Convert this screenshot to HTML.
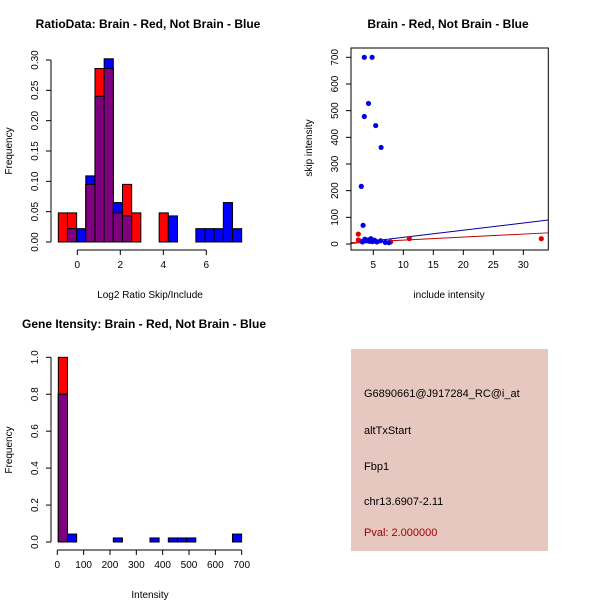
<!DOCTYPE html>
<html><head><meta charset="utf-8"><style>
body{margin:0;background:#fff}
svg{display:block;font-family:"Liberation Sans",sans-serif}
</style></head><body>
<svg id="c" width="600" height="600" viewBox="0 0 600 600">
<text x="148" y="28" font-size="12" font-weight="bold" text-anchor="middle">RatioData: Brain - Red, Not Brain - Blue</text>
<text x="448" y="28" font-size="12" font-weight="bold" text-anchor="middle">Brain - Red, Not Brain - Blue</text>
<text x="144" y="328" font-size="12" font-weight="bold" text-anchor="middle">Gene Itensity: Brain - Red, Not Brain - Blue</text>
<text x="150" y="298" font-size="10" text-anchor="middle">Log2 Ratio Skip/Include</text>
<text x="449" y="298" font-size="10" text-anchor="middle">include intensity</text>
<text x="150" y="598" font-size="10" text-anchor="middle">Intensity</text>
<text transform="translate(12,151) rotate(-90)" font-size="10" text-anchor="middle">Frequency</text>
<text transform="translate(312,148) rotate(-90)" font-size="10" text-anchor="middle">skip intensity</text>
<text transform="translate(12,450) rotate(-90)" font-size="10" text-anchor="middle">Frequency</text>
<rect x="351" y="349" width="197" height="202" fill="#e6c8c0"/>
<g font-size="11">
<text x="364" y="397">G6890661@J917284_RC@i_at</text>
<text x="364" y="434">altTxStart</text>
<text x="364" y="470">Fbp1</text>
<text x="364" y="505">chr13.6907-2.11</text>
<text x="364" y="536" fill="#a00000">Pval: 2.000000</text>
</g>
<g id="g1"></g><g id="g2"></g><g id="g3"></g>
</svg>
<script>
// Ratio histogram data
const ratioRed = [0.048,0.048,0,0.095,0.286,0.286,0.048,0.095,0.048,0,0,0.048,0,0,0,0,0,0,0,0];
const ratioBlue = [0,0.022,0.022,0.109,0.24,0.302,0.065,0.043,0,0,0,0,0.043,0,0,0.022,0.022,0.022,0.065,0.022];
const ratioXTicks = [0,2,4,6];
const ratioYTicks = ["0.00","0.05","0.10","0.15","0.20","0.25","0.30"];
// Scatter data
const blueX = [3.5,4.8,4.2,3.5,5.4,6.3,3.0,3.3,4.6,3.2,3.8,4.2,5.0,5.6,6.2,7.0,7.6,3.6,4.4,5.2];
const blueY = [700,700,527,478,444,362,216,70,20,8,12,15,10,8,12,6,5,18,10,14];
const redX = [2.5,2.5,11,33,7.9,2.7,3.2,4.0,4.8];
const redY = [37,15,20,20,8,12,10,12,9];
const blueLine = [-1.7,2.68];
const redLine = [3,1.14];
const scatXTicks = [5,10,15,20,25,30];
const scatYTicks = [0,100,200,300,400,500,600,700];
// Intensity histogram data
const intRed = [1.0,0,0,0,0,0,0,0,0,0,0,0,0,0,0,0,0,0,0,0];
const intBlue = [0.8,0.043,0,0,0,0,0.022,0,0,0,0.022,0,0.022,0.022,0.022,0,0,0,0,0.043];
const intXTicks = [0,100,200,300,400,500,600,700];
const intYTicks = ["0.0","0.2","0.4","0.6","0.8","1.0"];

const NS="http://www.w3.org/2000/svg";
function mk(p,t,a){const e=document.createElementNS(NS,t);for(const k in a)e.setAttribute(k,a[k]);p.appendChild(e);return e;}

function hist(g,red,blue,start,w,sx,sy,xt,yt,yAxisX,xAxisY){
  for(let i=0;i<red.length;i++){
    const x0=sx(start+i*w),x1=sx(start+(i+1)*w);
    const r=red[i],b=blue[i],m=Math.min(r,b);
    if(r>0){const e=mk(g,'rect',{x:x0,y:sy(r),width:x1-x0,height:sy(0)-sy(r),fill:'#ff0000',stroke:'#000','stroke-width':1});
      
      }
    if(b>0){const e=mk(g,'rect',{x:x0,y:sy(b),width:x1-x0,height:sy(0)-sy(b),fill:'#0000ff',stroke:'#000','stroke-width':1});
      
      }
    if(m>0){const e=mk(g,'rect',{x:x0,y:sy(m),width:x1-x0,height:sy(0)-sy(m),fill:'#7f007f',stroke:'#000','stroke-width':1});
      
      }
  }
  const xl=mk(g,'line',{x1:sx(xt[0]),x2:sx(xt[xt.length-1]),y1:xAxisY,y2:xAxisY,stroke:'#000'});
  
  
  xt.forEach(v=>{mk(g,'line',{x1:sx(v),x2:sx(v),y1:xAxisY,y2:xAxisY+5,stroke:'#000'});
    const t=mk(g,'text',{x:sx(v),y:xAxisY+18,'font-size':10,'text-anchor':'middle'});t.textContent=v;
    
    });
  const yv=yt.map(Number);
  const yl=mk(g,'line',{x1:yAxisX,x2:yAxisX,y1:sy(yv[0]),y2:sy(yv[yv.length-1]),stroke:'#000'});
  
  
  yt.forEach(s=>{const v=Number(s);mk(g,'line',{x1:yAxisX-5,x2:yAxisX,y1:sy(v),y2:sy(v),stroke:'#000'});
    const t=mk(g,'text',{transform:`translate(${yAxisX-13},${sy(v)}) rotate(-90)`,'font-size':10,'text-anchor':'middle'});t.textContent=s;
    
    });
}
// plot 1
{const g=document.getElementById('g1');
 const sx=v=>77.3+v*21.5, sy=v=>242-v*606.7;
 hist(g,ratioRed,ratioBlue,-0.884,0.4265,sx,sy,ratioXTicks,ratioYTicks,51,250);}
// plot 3
{const g=document.getElementById('g3');
 const sx=v=>57.3+v*0.2634, sy=v=>542-v*184.7;
 hist(g,intRed,intBlue,3.8,34.8,sx,sy,intXTicks,intYTicks,51,550);}
// plot 2
{const g=document.getElementById('g2');
 const sx=v=>343.3+v*6, sy=v=>244-v*0.2667;
 const L=351,R=548.3,T=48,B=250;
 const box=mk(g,'rect',{x:L,y:T,width:R-L,height:B-T,fill:'none',stroke:'#000'});
 
 
 mk(g,'clipPath',{id:'cp'}).appendChild(document.createElementNS(NS,'rect'));
 const cr=g.querySelector('#cp rect');cr.setAttribute('x',L);cr.setAttribute('y',T);cr.setAttribute('width',R-L);cr.setAttribute('height',B-T);
 const xmin=(L-343.3)/6,xmax=(R-343.3)/6;
 [[blueLine,'#0000a0','blue-fit-line'],[redLine,'#c00000','red-fit-line']].forEach(([c,col,n])=>{
   const e=mk(g,'line',{x1:sx(xmin),y1:sy(c[0]+c[1]*xmin),x2:sx(xmax),y2:sy(c[0]+c[1]*xmax),stroke:col,'clip-path':'url(#cp)'});
   
   });
 redX.forEach((x,i)=>{const e=mk(g,'circle',{cx:sx(x),cy:sy(redY[i]),r:2.6,fill:'#e00000'});
   
   });
 blueX.forEach((x,i)=>{const e=mk(g,'circle',{cx:sx(x),cy:sy(blueY[i]),r:2.6,fill:'#0000e0'});
   
   });
 mk(g,'line',{x1:sx(5),x2:sx(30),y1:B,y2:B,stroke:'#000'});
 scatXTicks.forEach(v=>{mk(g,'line',{x1:sx(v),x2:sx(v),y1:B,y2:B+5,stroke:'#000'});
   const t=mk(g,'text',{x:sx(v),y:B+18,'font-size':10,'text-anchor':'middle'});t.textContent=v;
   
   });
 mk(g,'line',{x1:L,x2:L,y1:sy(0),y2:sy(700),stroke:'#000'});
 scatYTicks.forEach(v=>{mk(g,'line',{x1:L-5,x2:L,y1:sy(v),y2:sy(v),stroke:'#000'});
   const t=mk(g,'text',{transform:`translate(${L-13},${sy(v)}) rotate(-90)`,'font-size':10,'text-anchor':'middle'});t.textContent=v;
   
   });
}
</script>
</body></html>
